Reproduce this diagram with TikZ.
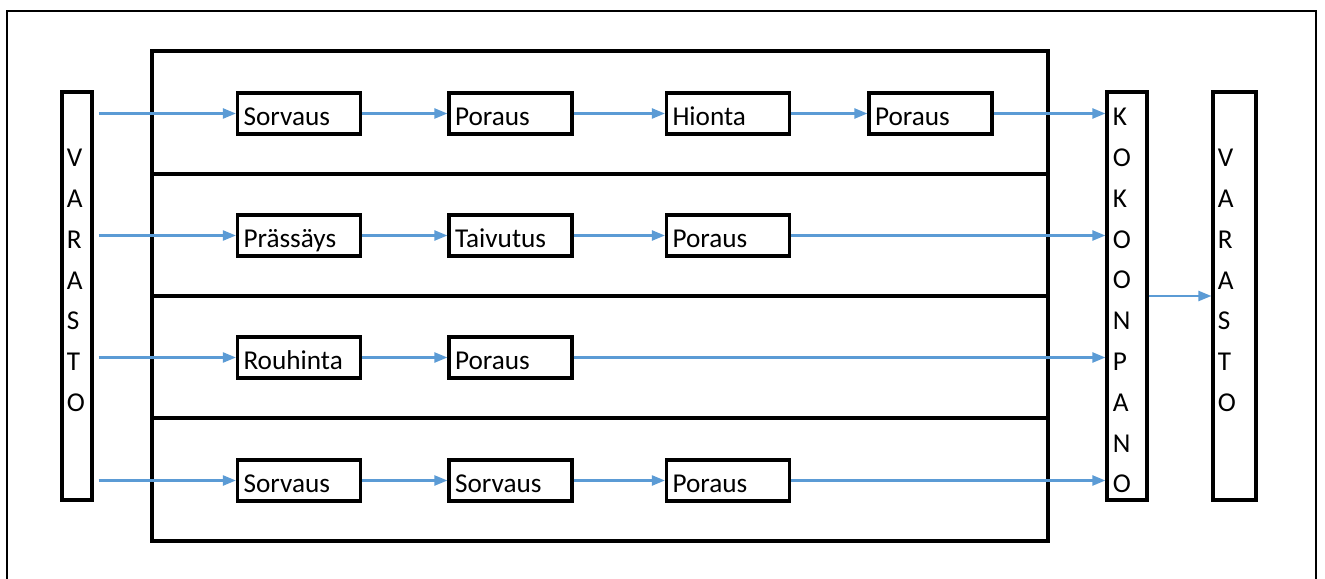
\documentclass[tikz,border=0pt]{standalone}
\usepackage{fontspec}
\setmainfont{Carlito}
\usetikzlibrary{arrows.meta}
\definecolor{arrowblue}{HTML}{5B9BD5}
\begin{document}
\begin{tikzpicture}[
    box/.style={draw, line width=1.8pt, minimum height=0.82cm, text width=2.22cm,
      inner xsep=0.12cm, inner ysep=0pt, text height=15pt, text depth=0.8pt,
      align=left, font=\fontsize{15.5}{18}\selectfont},
    tall/.style={draw, line width=1.8pt, minimum height=8.16cm, inner sep=0pt},
    letter/.style={font=\fontsize{15.5}{18}\selectfont, inner sep=0pt, anchor=west},
    flow/.style={-{Triangle[length=0.26cm,width=0.2cm]}, line width=1.3pt, arrowblue}]
   \useasboundingbox (0,0) rectangle (26.5,-11.58);
   \draw[line width=1.6pt] (0.14,-11.58) -- (0.14,-0.22) -- (26.32,-0.22) -- (26.32,-11.58);
   \draw[line width=1.8pt] (3.04,-1.02) rectangle (20.96,-10.82);
   \foreach \y in {-3.48,-5.92,-8.36}
     \draw[line width=1.8pt] (3.04,\y) -- (20.96,\y);
   % storages and assembly
   \node[tall, minimum width=0.6cm] (varL) at (1.54,-5.92) {};
   \node[tall, minimum width=0.8cm] (kok) at (22.54,-5.92) {};
   \node[tall, minimum width=0.86cm] (varR) at (24.69,-5.92) {};
   \foreach \l [count=\i] in {V,A,R,A,S,T,O} {
     \node[letter] (vl\i) at ([xshift=0.12cm]varL.west |- 0,{-3.16-0.816*(\i-1)}) {\l};
     \node[letter] (vr\i) at ([xshift=0.12cm]varR.west |- 0,{-3.16-0.816*(\i-1)}) {\l};
   }
   \foreach \l [count=\i] in {K,O,K,O,O,N,P,A,N,O}
     \node[letter] (kl\i) at ([xshift=0.14cm]kok.west |- 0,{-2.34-0.816*(\i-1)}) {\l};
   % work phases
   \node[box] (r1c1) at (5.98,-2.27) {Sorvaus};
   \node[box] (r1c2) at (10.21,-2.27) {Poraus};
   \node[box] (r1c3) at (14.56,-2.27) {Hionta};
   \node[box] (r1c4) at (18.61,-2.27) {Poraus};
   \node[box] (r2c1) at (5.98,-4.71) {Prässäys};
   \node[box] (r2c2) at (10.21,-4.71) {Taivutus};
   \node[box] (r2c3) at (14.56,-4.71) {Poraus};
   \node[box] (r3c1) at (5.98,-7.15) {Rouhinta};
   \node[box] (r3c2) at (10.21,-7.15) {Poraus};
   \node[box] (r4c1) at (5.98,-9.61) {Sorvaus};
   \node[box] (r4c2) at (10.21,-9.61) {Sorvaus};
   \node[box] (r4c3) at (14.56,-9.61) {Poraus};
   % material flow
   \foreach \r in {r1c1,r2c1,r3c1,r4c1}
     \draw[flow, shorten <=0.1cm] (varL.east |- \r) -- (\r.west);
   \draw[flow] (r1c1) -- (r1c2);
   \draw[flow] (r1c2) -- (r1c3);
   \draw[flow] (r1c3) -- (r1c4);
   \draw[flow] (r2c1) -- (r2c2);
   \draw[flow] (r2c2) -- (r2c3);
   \draw[flow] (r3c1) -- (r3c2);
   \draw[flow] (r4c1) -- (r4c2);
   \draw[flow] (r4c2) -- (r4c3);
   \foreach \r in {r1c4,r2c3,r3c2,r4c3}
     \draw[flow] (\r.east) -- (kok.west |- \r);
   \draw[flow] (kok) -- (varR);
\end{tikzpicture}
\end{document}
